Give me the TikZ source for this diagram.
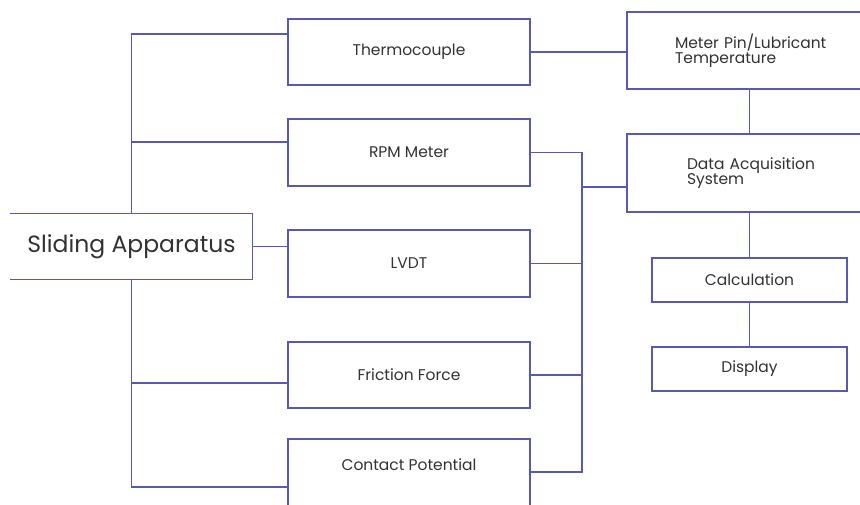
\documentclass[tikz,border=0pt]{standalone}
\usepackage{fontspec}
\setmainfont{Poppins}
\definecolor{wire}{RGB}{88,88,184}
\definecolor{ink}{RGB}{50,50,50}

\begin{document}
\begin{tikzpicture}
[every node/.style={inner sep=0pt, text=ink},
 box/.style={rectangle, draw=wire, line width=1.3pt, minimum width=242pt, minimum height=66pt, font=\fontsize{15.5}{15}\selectfont},
 wide/.style={box, minimum width=373pt, text width=277pt, inner xsep=48pt, align=left},
 line width=1.3pt, color=wire]
\useasboundingbox (0pt,0pt) rectangle (860pt,-504pt);
\clip (0pt,0pt) rectangle (860pt,-504pt);
\coordinate (rb) at (582pt, 0pt);
\node (sa) [minimum width=241pt, minimum height=65pt, font=\fontsize{23.5}{24}\selectfont] at (131.5pt, -246.5pt) {Sliding Apparatus};
\node (tc) [box] at (409pt, -52pt) {Thermocouple};
\node (rpm) [box, minimum height=67pt] at (409pt, -152.5pt) {RPM Meter};
\node (lvdt) [box, minimum height=67pt] at (409pt, -263.5pt) {LVDT};
\node (ff) [box] at (409pt, -375pt) {Friction Force};
\node (cp) [box, minimum height=70pt, text depth=18pt] at (409pt, -474pt) {Contact Potential};
\node (mp) [wide, minimum height=77pt] at (813.5pt, -50.5pt) {Meter Pin/Lubricant\\Temperature};
\node (daq) [wide, minimum height=78pt, inner xsep=60pt, text width=253pt] at (813.5pt, -173pt) {Data Acquisition\\System};
\node (calc) [box, minimum width=195pt, minimum height=44pt] at (749.5pt, -280pt) {Calculation};
\node (disp) [box, minimum width=195pt, minimum height=44pt] at (749.5pt, -369pt) {Display};
\coordinate (cpr) at ([yshift=2pt]cp.east);
% sliding apparatus box, open at the left
\draw (sa.north west) -- (sa.north east) -- (sa.south east) -- (sa.south west);
% left side
\draw ([yshift=18pt]tc.west) -| (sa.north);
\draw ([yshift=10.5pt]rpm.west) -- ([yshift=10.5pt]rpm.west -| sa.north);
\draw (sa.east) -- (sa.east -| lvdt.west);
\draw (sa.south) |- ([yshift=-13pt]cp.west);
\draw ([yshift=-8pt]ff.west) -- ([yshift=-8pt]ff.west -| sa.south);
% right side
\draw (rpm.east) -- (rpm.east -| rb) -- (rb |- cpr) -- (cpr);
\draw (lvdt.east) -- (lvdt.east -| rb);
\draw (ff.east) -- (ff.east -| rb);
\draw ([yshift=-14pt]daq.west) -- ([yshift=-14pt]daq.west -| rb);
\draw (tc.east) -- (tc.east -| mp.west);
\draw (calc.north |- mp.south) -- (calc.north |- daq.north);
\draw (calc.north |- daq.south) -- (calc.north);
\draw (calc.south) -- (disp.north);
\end{tikzpicture}
\end{document}
